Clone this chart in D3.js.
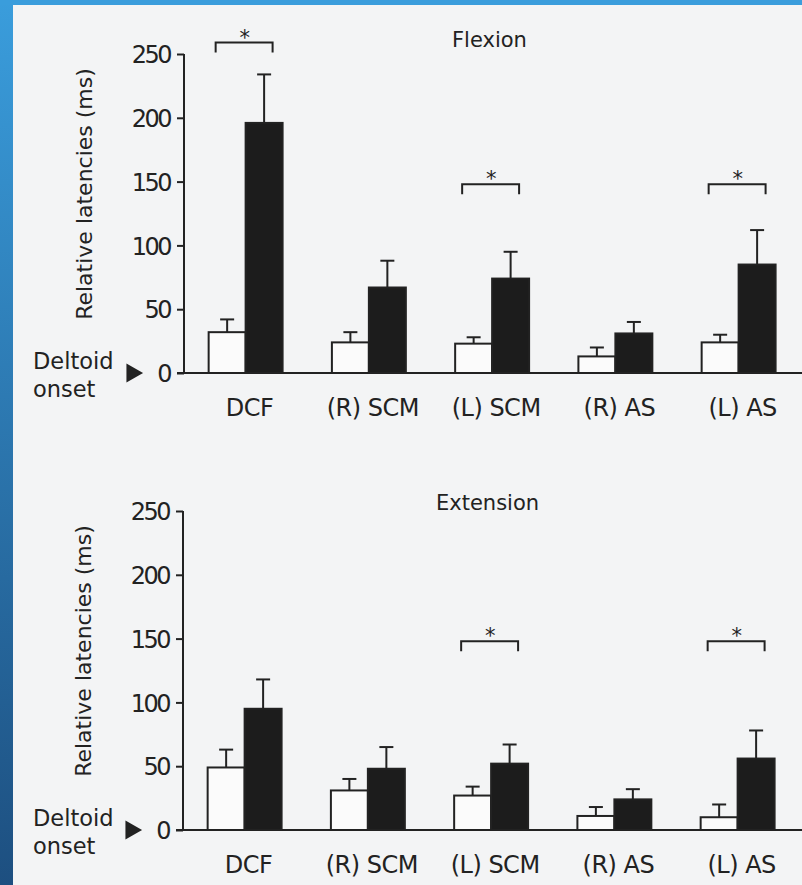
<!DOCTYPE html>
<html>
<head>
<meta charset="utf-8">
<script src="https://cdn.jsdelivr.net/npm/d3@7"></script>
<style>
  html, body { margin: 0; padding: 0; background: #f3f4f5; }
  svg { display: block; }
  text { font-family: "DejaVu Sans", "Lato", sans-serif; fill: #222; }
</style>
</head>
<body>
<div id="container"></div>
<script>
var width = 802;
var height = 885;

// muscles along the x axis
var categories = ["DCF", "(R) SCM", "(L) SCM", "(R) AS", "(L) AS"];
var yTicks = [0, 50, 100, 150, 200, 250];

// flexion: white = control, black = neck pain (ms, mean and SE)
var flexWhite = [32, 24, 23, 13, 24];
var flexWhiteErr = [10, 8, 5, 7, 6];
var flexBlack = [196, 67, 74, 31, 85];
var flexBlackErr = [38, 21, 21, 9, 27];
var flexSig = [259, null, 148, null, 148];

// extension
var extWhite = [49, 31, 27, 11, 10];
var extWhiteErr = [14, 9, 7, 7, 10];
var extBlack = [95, 48, 52, 24, 56];
var extBlackErr = [23, 17, 15, 8, 22];
var extSig = [null, null, 148, null, 148];

var svg = d3.select('div#container')
  .append('svg')
  .attr('width', width)
  .attr('height', height);

// blue frame of the slide
var grad = svg.append('defs').append('linearGradient')
  .attr('id', 'edge').attr('x1', 0).attr('y1', 0).attr('x2', 0).attr('y2', 1);
grad.append('stop').attr('offset', '0%').attr('stop-color', '#3a9ddc');
grad.append('stop').attr('offset', '100%').attr('stop-color', '#1d4f80');
svg.append('rect').attr('x', 0).attr('y', 0).attr('width', 13).attr('height', height).attr('fill', 'url(#edge)');
svg.append('rect').attr('x', 0).attr('y', 0).attr('width', width).attr('height', 5).attr('fill', '#3a9ddc');

function panel(opts){
  var g = svg.append('g');
  var y = d3.scaleLinear().domain([0, 250]).range([opts.y0, opts.y0 - 319]);
  var x = d3.scaleBand().domain(categories)
    .range([opts.ax, opts.ax + 616.25])
    .paddingInner(0.4).paddingOuter(0.2);
  var sub = d3.scaleBand().domain(["w", "b"]).range([0, x.bandwidth()]);

  // y axis
  var axis = g.append('g')
    .attr('transform', 'translate(' + opts.ax + ',0)')
    .call(d3.axisLeft(y).tickValues(yTicks).tickSize(7).tickPadding(7));
  axis.select('.domain').attr('stroke', '#222').attr('stroke-width', 2)
    .attr('d', 'M0,' + y(250) + 'V' + y(0));
  axis.selectAll('.tick line').attr('stroke', '#222').attr('stroke-width', 2);
  axis.selectAll('.tick text')
    .style('font-family', '"DejaVu Sans", sans-serif')
    .style('font-size', '24px')
    .style('letter-spacing', '-2.5px')
    .attr('fill', '#222')
    .attr('dy', '0.36em');

  // baseline
  g.append('line')
    .attr('x1', opts.ax - 7).attr('x2', width)
    .attr('y1', y(0)).attr('y2', y(0))
    .attr('stroke', '#222').attr('stroke-width', 2);

  var rows = categories.map(function(c, i){
    return [
      {cat: c, k: "w", v: opts.white[i], e: opts.whiteErr[i]},
      {cat: c, k: "b", v: opts.black[i], e: opts.blackErr[i]}
    ];
  }).flat();

  // error bars (upper only)
  var eb = g.selectAll('g.err').data(rows).enter().append('g').attr('class', 'err');
  eb.append('line')
    .attr('x1', function(d){ return x(d.cat) + sub(d.k) + sub.bandwidth()/2; })
    .attr('x2', function(d){ return x(d.cat) + sub(d.k) + sub.bandwidth()/2; })
    .attr('y1', function(d){ return y(d.v); })
    .attr('y2', function(d){ return y(d.v + d.e); })
    .attr('stroke', '#222').attr('stroke-width', 2);
  eb.append('line')
    .attr('x1', function(d){ return x(d.cat) + sub(d.k) + sub.bandwidth()/2 - 7; })
    .attr('x2', function(d){ return x(d.cat) + sub(d.k) + sub.bandwidth()/2 + 7; })
    .attr('y1', function(d){ return y(d.v + d.e); })
    .attr('y2', function(d){ return y(d.v + d.e); })
    .attr('stroke', '#222').attr('stroke-width', 2);

  g.selectAll('rect.bar').data(rows).enter().append('rect')
    .attr('class', 'bar')
    .attr('x', function(d){ return x(d.cat) + sub(d.k); })
    .attr('y', function(d){ return y(d.v); })
    .attr('width', sub.bandwidth())
    .attr('height', function(d){ return y(0) - y(d.v); })
    .attr('fill', function(d){ return d.k == "w" ? '#fbfbfb' : '#1c1c1c'; })
    .attr('stroke', '#222').attr('stroke-width', 2);

  // significance brackets
  var sig = categories.map(function(c, i){ return {cat: c, v: opts.sig[i]}; })
    .filter(function(d){ return d.v != null; });
  g.selectAll('path.br').data(sig).enter().append('path')
    .attr('class', 'br')
    .attr('d', function(d){
      var x1 = x(d.cat) + 7, x2 = x(d.cat) + x.bandwidth() - 10;
      return 'M' + x1 + ',' + (y(d.v) + 10) + 'V' + y(d.v) + 'H' + x2 + 'V' + (y(d.v) + 10);
    })
    .attr('fill', 'none').attr('stroke', '#222').attr('stroke-width', 2);
  g.selectAll('text.star').data(sig).enter().append('text')
    .attr('class', 'star')
    .attr('x', function(d){ return x(d.cat) + x.bandwidth()/2 - 1; })
    .attr('y', function(d){ return y(d.v) + 2; })
    .attr('text-anchor', 'middle')
    .style('font-size', '21px')
    .text('*');

  // category labels
  g.selectAll('text.cat').data(categories).enter().append('text')
    .attr('class', 'cat')
    .attr('x', function(d){ return x(d) + x.bandwidth()/2 + 4; })
    .attr('y', y(0) + 43)
    .attr('text-anchor', 'middle')
    .style('font-size', '24px')
    .style('letter-spacing', '-0.5px')
    .text(function(d){ return d; });

  // title
  g.append('text')
    .attr('x', opts.tx).attr('y', opts.ty)
    .style('font-size', '21px')
    .text(opts.title);

  // y label
  g.append('text')
    .attr('transform', 'translate(' + (opts.ax - 92) + ',' + (y(0) - 179) + ') rotate(-90)')
    .attr('text-anchor', 'middle')
    .style('font-size', '22px')
    .text('Relative latencies (ms)');

  // deltoid onset marker
  g.append('text').attr('x', 33).attr('y', y(0) - 4).style('font-size', '22.5px').text('Deltoid');
  g.append('text').attr('x', 33).attr('y', y(0) + 24).style('font-size', '22.5px').text('onset');
  var tri = d3.symbol().type(d3.symbolTriangle).size(160);
  g.append('path')
    .attr('d', tri)
    .attr('transform', 'translate(' + (opts.ax - 52) + ',' + y(0) + ') rotate(90)')
    .attr('fill', '#222');
}

panel({y0: 373, ax: 184, white: flexWhite, whiteErr: flexWhiteErr, black: flexBlack, blackErr: flexBlackErr,
  sig: flexSig, title: "Flexion", tx: 452, ty: 47});
panel({y0: 830, ax: 183, white: extWhite, whiteErr: extWhiteErr, black: extBlack, blackErr: extBlackErr,
  sig: extSig, title: "Extension", tx: 436, ty: 510});
</script>
</body>
</html>
